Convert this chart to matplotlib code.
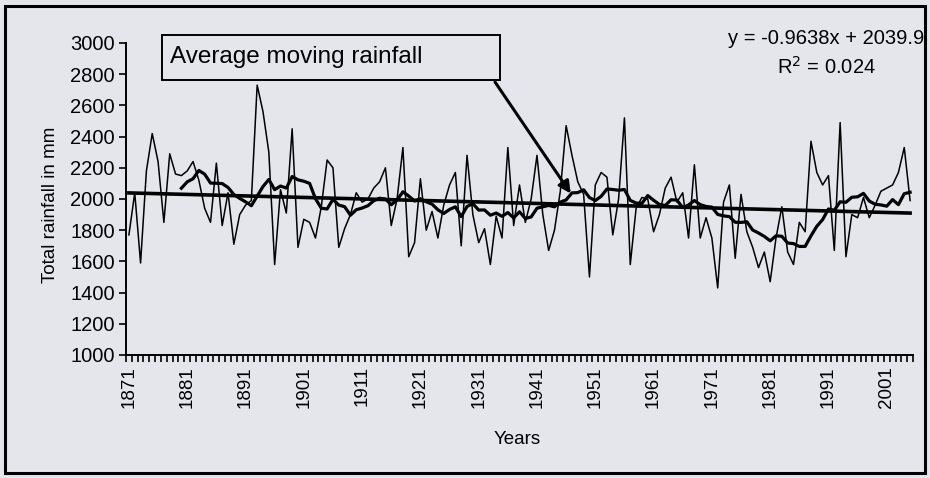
import numpy as np
import pandas as pd
import matplotlib
matplotlib.use("Agg")
import matplotlib.pyplot as plt
from matplotlib.patches import Rectangle

plt.rcParams['font.family'] = ['Liberation Sans', 'DejaVu Sans']

# === Annual rainfall (mm), 1871-2005 ===
years = np.arange(1871, 2006)
rainfall = [
    1770, 2040, 1590, 2180, 2420, 2240, 1850, 2290, 2160, 2150,   # 1871-1880
    2180, 2240, 2120, 1940, 1850, 2230, 1830, 2040, 1710, 1900,   # 1881-1890
    1960, 1990, 2730, 2560, 2300, 1580, 2060, 1910, 2450, 1690,   # 1891-1900
    1870, 1850, 1750, 1950, 2250, 2200, 1690, 1810, 1900, 2040,   # 1901-1910
    1980, 2000, 2070, 2110, 2200, 1830, 2000, 2330, 1630, 1720,   # 1911-1920
    2130, 1800, 1920, 1750, 1960, 2090, 2170, 1700, 2280, 1900,   # 1921-1930
    1720, 1810, 1580, 1890, 1750, 2330, 1830, 2090, 1850, 2000,   # 1931-1940
    2280, 1900, 1670, 1800, 2050, 2470, 2280, 2110, 2030, 1500,   # 1941-1950
    2090, 2170, 2140, 1770, 2000, 2520, 1580, 1940, 2010, 2000,   # 1951-1960
    1790, 1900, 2070, 2140, 1980, 2040, 1750, 2220, 1750, 1880,   # 1961-1970
    1750, 1430, 1980, 2090, 1620, 2030, 1790, 1690, 1560, 1660,   # 1971-1980
    1470, 1750, 1950, 1660, 1580, 1850, 1790, 2370, 2170, 2090,   # 1981-1990
    2150, 1670, 2490, 1630, 1900, 1880, 2010, 1880, 1960, 2050,   # 1991-2000
    2070, 2090, 2170, 2330, 1990,                                 # 2001-2005
]
tick_years = np.arange(1871, 2002, 10)

# Linear trend as reported on the chart (x = 1, 2, ... n)
slope, intercept, r2 = -0.9638, 2039.9, 0.024

rain = pd.Series(rainfall, index=years)
moving_avg = rain.rolling(10).mean()
trend = slope * np.arange(1, len(years) + 1) + intercept

# === Figure ===
bg = '#e4e6ec'
fig = plt.figure(figsize=(9.3, 4.78), dpi=100, facecolor=bg)
ax = fig.add_axes([126 / 930, 123 / 478, 787 / 930, 312 / 478])
ax.set_facecolor('none')

ax.plot(years, rain.values, color='black', lw=1.1)
ax.plot(years, moving_avg.values, color='black', lw=2.3)
ax.plot(years, trend, color='black', lw=2.6)

ax.set_xlim(1870.5, 2005.5)
ax.set_ylim(1000, 3000)
ax.set_yticks(np.arange(1000, 3001, 200))
ax.set_xticks(tick_years)
ax.set_xticklabels([str(y) for y in tick_years], rotation=90)
ax.set_xticks(np.arange(1870.5, 2006, 1), minor=True)
ax.tick_params(axis='x', which='major', length=0, labelsize=13.5, pad=8)
ax.tick_params(axis='x', which='minor', length=5, width=1.2, direction='out')
ax.tick_params(axis='y', length=5, width=1.2, direction='out', labelsize=14.5, pad=3)

for side in ['top', 'right']:
    ax.spines[side].set_visible(False)
for side in ['left', 'bottom']:
    ax.spines[side].set_linewidth(1.4)

ax.set_ylabel("Total rainfall in mm", fontsize=13.5)
ax.yaxis.set_label_coords(-0.085, 0.48)
ax.set_xlabel("Years", fontsize=13.5)
ax.xaxis.set_label_coords(0.497, -0.245)

# Label box with arrow pointing to the moving average
fig.patches.append(Rectangle((162 / 930, 1 - 80 / 478), 338 / 930, 45 / 478,
                             transform=fig.transFigure, fill=False,
                             edgecolor='black', lw=1.4))
fig.text(170 / 930, 1 - 57 / 478, "Average moving rainfall", fontsize=17.5,
         va='center', ha='left')
ax.annotate("", xy=(1946.8, 2035), xycoords='data',
            xytext=(495 / 930, 1 - 82 / 478), textcoords='figure fraction',
            arrowprops=dict(arrowstyle='-|>', color='black', lw=2.2,
                            mutation_scale=18, shrinkA=0, shrinkB=0))

# Trend equation
fig.text(826 / 930, 1 - 39 / 478, "y = -0.9638x + 2039.9", fontsize=14.5,
         ha='center', va='center')
fig.text(826 / 930, 1 - 67 / 478, "R$^2$ = %.3f" % r2, fontsize=14.5,
         ha='center', va='center')

# Chart frame
fig.patches.append(Rectangle((5 / 930, 5 / 478), 920 / 930, 467 / 478,
                             transform=fig.transFigure, fill=False,
                             edgecolor='black', lw=2.2))

fig.savefig("out.png", dpi=100, facecolor=bg)
